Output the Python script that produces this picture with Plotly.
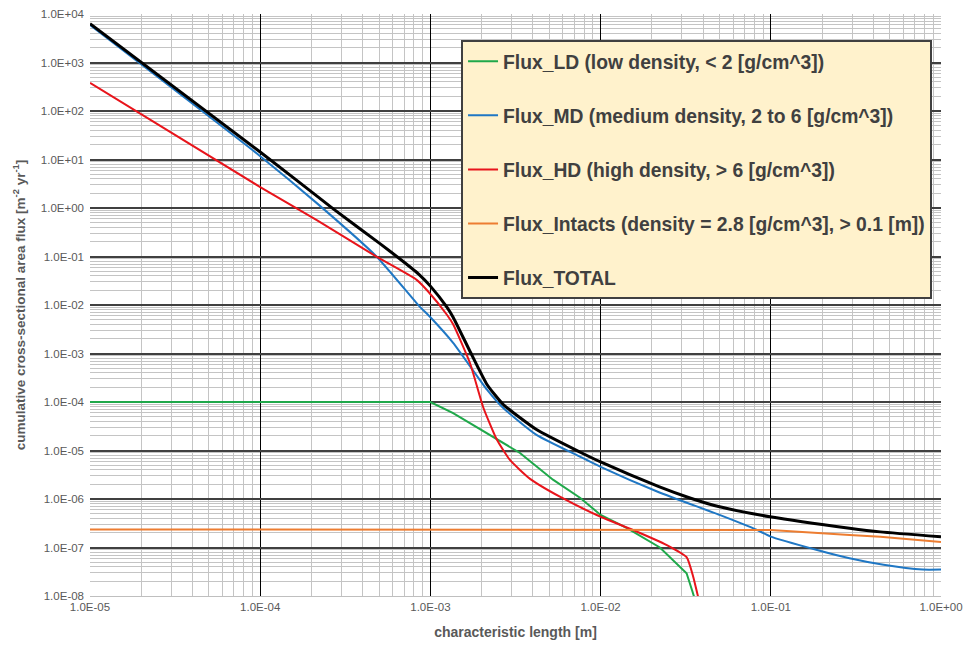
import plotly.graph_objects as go

# ---------------- data ----------------
ld_x = [1.0e-5, 1.0e-3, 1.36e-3, 2.15e-3, 3.36e-3, 5.25e-3, 7.6e-3, 1.0e-2, 1.43e-2, 2.23e-2, 3.2e-2, 3.45e-2, 3.6e-2]
ld_y = [1.0e-4, 1.0e-4, 5.9e-5, 2.3e-5, 8.9e-6, 2.5e-6, 1.05e-6, 4.7e-7, 2.5e-7, 1.0e-7, 2.95e-8, 1.3e-8, 8.0e-9]

md_x = [1.0e-5, 1.0e-4, 2.15e-4, 4.85e-4, 8.6e-4, 1.0e-3, 1.36e-3, 2.15e-3, 2.67e-3, 4.2e-3, 7.6e-3,
        1.0e-2, 2.2e-2, 5.0e-2, 8.3e-2, 9.9e-2, 1.87e-1, 2.9e-1, 4.6e-1, 7.8e-1, 1.0]
md_y = [5.9e3, 11.7, 1.26, 9.8e-2, 9.5e-3, 5.6e-3, 1.66e-3, 1.8e-4, 7.6e-5, 2.1e-5, 7.4e-6,
        4.6e-6, 1.38e-6, 4.7e-7, 2.3e-7, 1.7e-7, 8.9e-8, 6.0e-8, 4.4e-8, 3.5e-8, 3.5e-8]

hd_x = [1.0e-5, 1.0e-4, 2.15e-4, 4.85e-4, 8.3e-4, 9.7e-4, 1.25e-3, 1.36e-3, 1.71e-3, 2.04e-3, 2.46e-3, 2.94e-3,
        3.85e-3, 5.8e-3, 1.0e-2, 1.55e-2, 2.45e-2, 3.2e-2, 3.5e-2, 3.73e-2, 3.8e-2]
hd_y = [380.0, 2.7, 0.56, 9.8e-2, 3.3e-2, 1.9e-2, 6.3e-3, 4.0e-3, 6.3e-4, 7.9e-5, 1.66e-5, 6.3e-6,
        2.6e-6, 1.1e-6, 4.3e-7, 2.3e-7, 1.12e-7, 6.3e-8, 2.5e-8, 1.0e-8, 8.0e-9]

intact_x = [1.0e-5, 1.0e-1, 2.9e-1, 4.4e-1, 1.0]
intact_y = [2.35e-7, 2.3e-7, 1.8e-7, 1.66e-7, 1.3e-7]

total_x = [1.0e-5, 1.0e-4, 2.7e-4, 5.1e-4, 6.6e-4, 8.5e-4, 1.0e-3, 1.25e-3, 1.36e-3, 1.71e-3, 2.15e-3,
           2.67e-3, 4.2e-3, 7.6e-3, 1.0e-2, 2.2e-2, 3.35e-2, 5.0e-2, 9.9e-2, 2.9e-1, 4.4e-1, 1.0]
total_y = [6.3e3, 14.3, 0.95, 0.18, 9.0e-2, 4.4e-2, 2.45e-2, 9.0e-3, 5.6e-3, 1.1e-3, 2.3e-4,
           9.0e-5, 2.7e-5, 9.2e-6, 5.8e-6, 1.8e-6, 1.05e-6, 6.9e-7, 4.3e-7, 2.5e-7, 2.1e-7, 1.66e-7]

series_names = [
    "Flux_LD (low density, < 2 [g/cm^3])",
    "Flux_MD (medium density, 2 to 6 [g/cm^3])",
    "Flux_HD (high density, > 6 [g/cm^3])",
    "Flux_Intacts (density = 2.8 [g/cm^3], > 0.1 [m])",
    "Flux_TOTAL",
]

x_tickvals = [1e-5, 1e-4, 1e-3, 1e-2, 1e-1, 1e0]
x_ticktext = ["1.0E-05", "1.0E-04", "1.0E-03", "1.0E-02", "1.0E-01", "1.0E+00"]
y_tickvals = [1e4, 1e3, 1e2, 1e1, 1e0, 1e-1, 1e-2, 1e-3, 1e-4, 1e-5, 1e-6, 1e-7, 1e-8]
y_ticktext = ["1.0E+04", "1.0E+03", "1.0E+02", "1.0E+01", "1.0E+00", "1.0E-01", "1.0E-02",
              "1.0E-03", "1.0E-04", "1.0E-05", "1.0E-06", "1.0E-07", "1.0E-08"]

# ---------------- figure ----------------
colors = ["#1FA84A", "#1F77C4", "#E8141B", "#ED7D31", "#000000"]
widths = [2, 2, 2, 2, 3]
shapes = ["linear", "spline", "spline", "linear", "spline"]
xs = [ld_x, md_x, hd_x, intact_x, total_x]
ys = [ld_y, md_y, hd_y, intact_y, total_y]

fig = go.Figure()
for i in range(5):
    line = dict(color=colors[i], width=widths[i], shape=shapes[i])
    if shapes[i] == "spline":
        line["smoothing"] = 0.5
    fig.add_trace(go.Scatter(
        x=xs[i], y=ys[i], mode="lines", name=series_names[i],
        line=line, legendgroup="g%d" % i,
    ))

font_family = "Liberation Sans, Arial, sans-serif"
fig.update_layout(
    width=963, height=648,
    margin=dict(l=90, r=22, t=14, b=52),
    paper_bgcolor="white", plot_bgcolor="white",
    font=dict(family=font_family, color="#595959", size=12),
    showlegend=True,
    legend=dict(
        x=0.436, y=0.955, xanchor="left", yanchor="top",
        bgcolor="#FFF2CC", bordercolor="#404040", borderwidth=2,
        font=dict(family=font_family, size=19.3, color="#404040", weight="bold"),
        tracegroupgap=26,
        itemwidth=30,
    ),
    xaxis=dict(
        type="log", range=[-5, 0], automargin=False,
        tickmode="array", tickvals=x_tickvals, ticktext=x_ticktext,
        ticklabeloverflow="allow",
        showgrid=True, gridcolor="#000000", gridwidth=1,
        minor=dict(dtick="D1", showgrid=True, gridcolor="#C4C4C4", gridwidth=1),
        showline=True, linecolor="#BFBFBF", linewidth=1, mirror=False,
        zeroline=False, ticks="",
        tickfont=dict(size=11.5, color="#595959"),
        title=dict(text="characteristic length [m]", standoff=15,
                   font=dict(size=14, color="#595959", weight="bold")),
    ),
    yaxis=dict(
        type="log", range=[-8, 4], automargin=False,
        tickmode="array", tickvals=y_tickvals, ticktext=y_ticktext,
        ticklabeloverflow="allow",
        showgrid=True, gridcolor="#404040", gridwidth=1.5,
        minor=dict(dtick="D1", showgrid=True, gridcolor="#C4C4C4", gridwidth=1),
        showline=False, zeroline=False, ticks="",
        ticklabelstandoff=5,
        tickfont=dict(size=11.5, color="#595959"),
        title=dict(text="cumulative cross-sectional area flux [m<sup>-2</sup> yr<sup>-1</sup>]", standoff=12,
                   font=dict(size=13.5, color="#595959", weight="bold")),
    ),
)

fig.write_html("out.html", config={"displayModeBar": False},
               post_script="document.body.style.margin='0';")
